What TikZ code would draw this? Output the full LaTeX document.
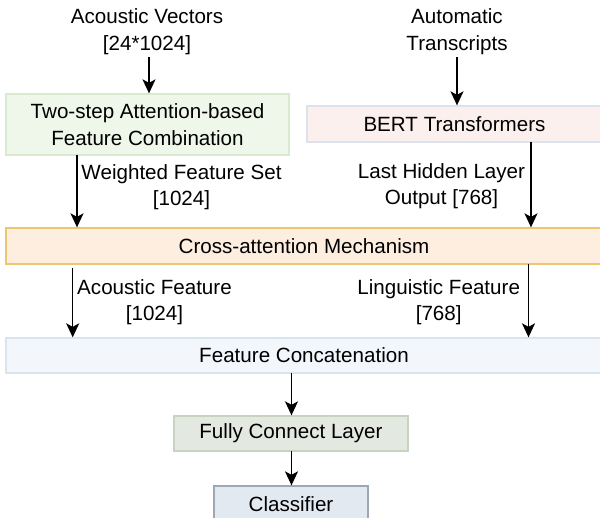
\documentclass[tikz,border=0pt]{standalone}
\usepackage{fontspec}
\setmainfont{Liberation Sans}
\usetikzlibrary{arrows.meta}
\definecolor{gfill}{HTML}{EFF6EA}
\definecolor{gline}{HTML}{D9EACF}
\definecolor{pfill}{HTML}{FCF0EF}
\definecolor{pline}{HTML}{DCE3EE}
\definecolor{ofill}{HTML}{FDEEDF}
\definecolor{oline}{HTML}{EEC66F}
\definecolor{bfill}{HTML}{F3F7FC}
\definecolor{bline}{HTML}{D9E4F1}
\definecolor{ffill}{HTML}{E3E8E0}
\definecolor{fline}{HTML}{C8D3C2}
\definecolor{cfill}{HTML}{E3E9F0}
\definecolor{cline}{HTML}{9DA8B5}
\begin{document}
\begin{tikzpicture}[x=1pt,y=-1pt,
  every node/.style={font=\fontsize{20.6}{26.5}\selectfont, text=black, inner sep=0pt},
  blk/.style={draw, line width=1.3pt, rectangle, anchor=center},
  lbl/.style={align=center},
  arr/.style={draw=black, line width=1.5pt, -{Stealth[length=14pt,width=13pt,inset=3.5pt]}}]
\useasboundingbox (0,0) rectangle (600,518);
\clip (0,0) rectangle (600,518);
% boxes
\node[blk, fill=gfill, draw=gline, minimum width=283pt, minimum height=61pt, align=center] (tsa) at (147.5,124.5) {Two-step Attention-based\\Feature Combination};
\node[blk, fill=pfill, draw=pline, minimum width=295pt, minimum height=36pt] (bert) at (454.5,124) {BERT Transformers};
\node[blk, fill=ofill, draw=oline, minimum width=596pt, minimum height=36pt] (cross) at (304,246) {Cross-attention Mechanism};
\node[blk, fill=bfill, draw=bline, minimum width=596pt, minimum height=35pt] (concat) at (304,355.5) {Feature Concatenation};
\node[blk, fill=ffill, draw=fline, minimum width=234pt, minimum height=35pt] (fc) at (291,433.5) {Fully Connect Layer};
\node[blk, fill=cfill, draw=cline, minimum width=154pt, minimum height=36pt] (cls) at (291,504) {Classifier};
% labels
\node[lbl] (av) at (147,31.5) {Acoustic Vectors\\{}[24*1024]};
\node[lbl] (at) at (457,31.5) {Automatic\\Transcripts};
\node[lbl] (wf) at (181.5,187) {Weighted Feature Set\\{}[1024]};
\node[lbl] (lh) at (441.5,186) {Last Hidden Layer\\Output [768]};
\node[lbl] (af) at (154.5,302) {Acoustic Feature\\{}[1024]};
\node[lbl] (lf) at (438.7,302) {Linguistic Feature\\{}[768]};
% arrow start points
\coordinate (s1) at (149,57);
\coordinate (s2) at (457,57);
\coordinate (s3) at (77,155);
\coordinate (s4) at (531,142);
\coordinate (s5) at (72.7,268);
\coordinate (s6) at (528.5,264);
\coordinate (s7) at (291.5,373);
\coordinate (s8) at (291.5,451);
% connectors
\draw[arr] (s1) -- (s1 |- tsa.north);
\draw[arr] (s2) -- (s2 |- bert.north);
\draw[arr] (s3) -- (s3 |- cross.north);
\draw[arr] (s4) -- (s4 |- cross.north);
\draw[arr] (s5) -- (s5 |- concat.north);
\draw[arr] (s6) -- (s6 |- concat.north);
\draw[arr] (s7) -- (s7 |- fc.north);
\draw[arr] (s8) -- (s8 |- cls.north);
\end{tikzpicture}
\end{document}
